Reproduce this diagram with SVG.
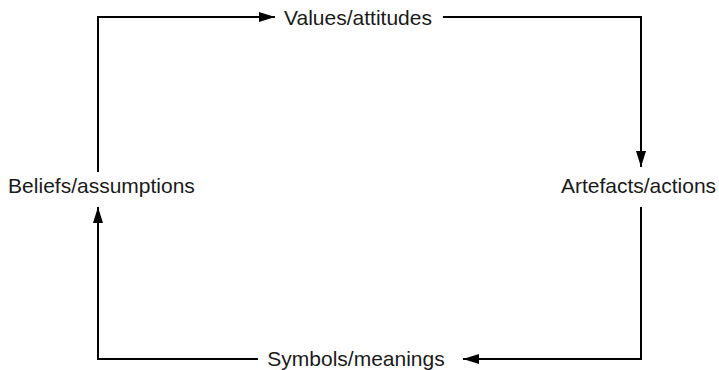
<svg xmlns="http://www.w3.org/2000/svg" width="719" height="370" viewBox="0 0 719 370">
<style>
.lbl{font-family:"Liberation Sans",Arial,Helvetica,sans-serif;font-size:21px;fill:#1a1a1a;text-anchor:middle}
.ln{fill:none;stroke:#000;stroke-width:2}
</style>
<defs>
<marker id="ah" markerUnits="userSpaceOnUse" markerWidth="16" markerHeight="10" viewBox="0 0 16 10" refX="16" refY="5" orient="auto">
<path d="M0,0 L16,5 L0,10 Z" fill="#000"/>
</marker>
</defs>
<rect width="719" height="370" fill="#fff"/>
<g id="connectors">
<path class="ln" d="M98,172 V17 H275" marker-end="url(#ah)"/>
<path class="ln" d="M443,17 H641 V167" marker-end="url(#ah)"/>
<path class="ln" d="M641,207 V359 H463" marker-end="url(#ah)"/>
<path class="ln" d="M258,359 H98 V207" marker-end="url(#ah)"/>
</g>
<g id="values"><text class="lbl" x="358" y="25">Values/attitudes</text></g>
<g id="artefacts"><text class="lbl" x="638.5" y="193">Artefacts/actions</text></g>
<g id="symbols"><text class="lbl" x="356" y="366">Symbols/meanings</text></g>
<g id="beliefs"><text class="lbl" x="101.5" y="193">Beliefs/assumptions</text></g>
</svg>
